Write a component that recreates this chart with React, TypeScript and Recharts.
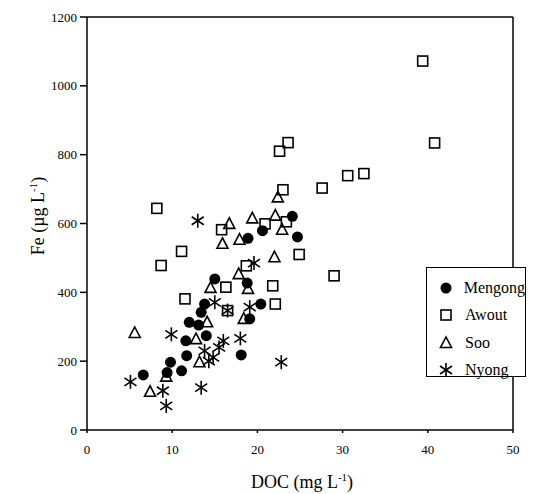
import React from 'react';
import { ScatterChart, Scatter, XAxis, YAxis, ReferenceLine, Legend } from 'recharts';

// DOC (mg/L) vs Fe (ug/L)
const mengong = [
  { doc: 6.6, fe: 160 }, { doc: 9.4, fe: 167 }, { doc: 9.8, fe: 197 }, { doc: 11.1, fe: 172 },
  { doc: 11.7, fe: 216 }, { doc: 11.6, fe: 259 }, { doc: 12.0, fe: 313 }, { doc: 13.1, fe: 305 },
  { doc: 13.4, fe: 342 }, { doc: 13.8, fe: 366 }, { doc: 14.0, fe: 274 }, { doc: 15.0, fe: 439 },
  { doc: 18.1, fe: 218 }, { doc: 18.8, fe: 427 }, { doc: 19.1, fe: 323 }, { doc: 20.4, fe: 366 },
  { doc: 18.9, fe: 557 }, { doc: 20.6, fe: 579 }, { doc: 24.1, fe: 621 }, { doc: 24.7, fe: 561 },
];

const awout = [
  { doc: 8.2, fe: 644 }, { doc: 8.7, fe: 478 }, { doc: 11.1, fe: 519 }, { doc: 11.5, fe: 381 },
  { doc: 15.8, fe: 582 }, { doc: 16.3, fe: 415 }, { doc: 16.5, fe: 347 }, { doc: 18.7, fe: 477 },
  { doc: 20.9, fe: 599 }, { doc: 21.8, fe: 419 }, { doc: 22.1, fe: 366 }, { doc: 23.0, fe: 698 },
  { doc: 23.4, fe: 605 }, { doc: 22.6, fe: 810 }, { doc: 23.6, fe: 835 }, { doc: 24.9, fe: 510 },
  { doc: 27.6, fe: 703 }, { doc: 29.0, fe: 448 }, { doc: 30.6, fe: 739 }, { doc: 32.5, fe: 745 },
  { doc: 39.4, fe: 1072 }, { doc: 40.8, fe: 834 },
];

const soo = [
  { doc: 5.6, fe: 282 }, { doc: 7.4, fe: 111 }, { doc: 9.3, fe: 155 }, { doc: 12.8, fe: 264 },
  { doc: 13.2, fe: 197 }, { doc: 14.1, fe: 313 }, { doc: 14.5, fe: 413 }, { doc: 15.9, fe: 541 },
  { doc: 16.7, fe: 599 }, { doc: 17.9, fe: 553 }, { doc: 17.8, fe: 453 }, { doc: 18.4, fe: 323 },
  { doc: 18.9, fe: 410 }, { doc: 19.4, fe: 615 }, { doc: 22.0, fe: 502 }, { doc: 22.1, fe: 623 },
  { doc: 22.4, fe: 676 }, { doc: 22.9, fe: 582 },
];

const nyong = [
  { doc: 5.1, fe: 140 }, { doc: 8.9, fe: 114 }, { doc: 9.3, fe: 70 }, { doc: 9.9, fe: 278 },
  { doc: 13.0, fe: 608 }, { doc: 13.4, fe: 123 }, { doc: 13.8, fe: 230 }, { doc: 14.8, fe: 211 },
  { doc: 15.0, fe: 371 }, { doc: 16.0, fe: 259 }, { doc: 16.5, fe: 347 }, { doc: 18.0, fe: 266 },
  { doc: 19.1, fe: 357 }, { doc: 19.6, fe: 485 }, { doc: 22.8, fe: 197 }, { doc: 14.3, fe: 200 },
  { doc: 15.5, fe: 240 },
];

const xTicks = [0, 10, 20, 30, 40, 50];
const yTicks = [0, 200, 400, 600, 800, 1000, 1200];
const seriesNames = ['Mengong', 'Awout', 'Soo', 'Nyong'];

const FONT = "'Liberation Serif', 'DejaVu Serif', serif";

// marker glyphs
const Dot = ({ cx, cy }: any) => <circle cx={cx} cy={cy} r={5.5} fill="#000" />;
const Box = ({ cx, cy }: any) => (
  <rect x={cx - 5} y={cy - 5} width={10} height={10} fill="none" stroke="#000" strokeWidth={1.6} />
);
const Tri = ({ cx, cy }: any) => (
  <polygon
    points={`${cx},${cy - 6} ${cx - 5.5},${cy + 4.5} ${cx + 5.5},${cy + 4.5}`}
    fill="none"
    stroke="#000"
    strokeWidth={1.6}
  />
);
const Star = ({ cx, cy }: any) => (
  <g stroke="#000" strokeWidth={1.6}>
    <line x1={cx} y1={cy - 7} x2={cx} y2={cy + 7} />
    <line x1={cx - 6} y1={cy - 4} x2={cx + 6} y2={cy + 4} />
    <line x1={cx - 6} y1={cy + 4} x2={cx + 6} y2={cy - 4} />
  </g>
);

const glyphs = [Dot, Box, Tri, Star];

const LegendBox = () => (
  <div
    style={{
      width: 100,
      height: 110,
      border: '1px solid #000',
      background: '#fff',
      fontFamily: FONT,
      fontSize: 16,
      paddingTop: 6,
      boxSizing: 'border-box',
      color: '#000',
    }}
  >
    {seriesNames.map((name, i) => {
      const G = glyphs[i];
      return (
        <div key={name} style={{ display: 'flex', alignItems: 'center', height: 27.5 }}>
          <svg width={36} height={20}>
            <G cx={19} cy={10} />
          </svg>
          <span style={{ marginLeft: 2 }}>{name}</span>
        </div>
      );
    })}
  </div>
);

const XTitle = ({ viewBox }: any) => (
  <text x={302} y={viewBox.y + 58} textAnchor="middle" fontFamily={FONT} fontSize={18} fill="#000">
    DOC (mg L<tspan dy={-7} fontSize={11}>-1</tspan>
    <tspan dy={7}>)</tspan>
  </text>
);

const YTitle = () => (
  <text
    x={0}
    y={0}
    transform="translate(44,216) rotate(-90)"
    textAnchor="middle"
    fontFamily={FONT}
    fontSize={18}
    fill="#000"
  >
    Fe (µg L<tspan dy={-7} fontSize={11}>-1</tspan>
    <tspan dy={7}>)</tspan>
  </text>
);

export default function App() {
  const tickStyle = { fontFamily: FONT, fontSize: 13, fill: '#000' };
  return (
    <div style={{ position: 'absolute', left: 0, top: 0, width: 539, height: 494, background: '#fff' }}>
      <ScatterChart width={539} height={494} margin={{ top: 17, right: 26, bottom: 24, left: 27 }}>
        <XAxis
          type="number"
          dataKey="doc"
          domain={[0, 50]}
          ticks={xTicks}
          height={40}
          stroke="#000"
          strokeWidth={1.5}
          tickSize={3}
          tickMargin={12}
          tick={tickStyle}
          label={<XTitle />}
        />
        <YAxis
          type="number"
          dataKey="fe"
          domain={[0, 1200]}
          ticks={yTicks}
          width={60}
          stroke="#000"
          strokeWidth={1.5}
          tickSize={7}
          tickMargin={3}
          tick={tickStyle}
          label={<YTitle />}
        />
        <ReferenceLine y={1200} stroke="#000" strokeWidth={1.5} />
        <ReferenceLine x={50} stroke="#000" strokeWidth={1.5} />
        <Scatter name="Mengong" data={mengong} shape={<Dot />} isAnimationActive={false} />
        <Scatter name="Awout" data={awout} shape={<Box />} isAnimationActive={false} />
        <Scatter name="Soo" data={soo} shape={<Tri />} isAnimationActive={false} />
        <Scatter name="Nyong" data={nyong} shape={<Star />} isAnimationActive={false} />
        <Legend
          layout="vertical"
          align="center"
          verticalAlign="middle"
          content={<LegendBox />}
          wrapperStyle={{ position: 'absolute', left: 426, top: 267, width: 100, height: 110 }}
        />
      </ScatterChart>
    </div>
  );
}
